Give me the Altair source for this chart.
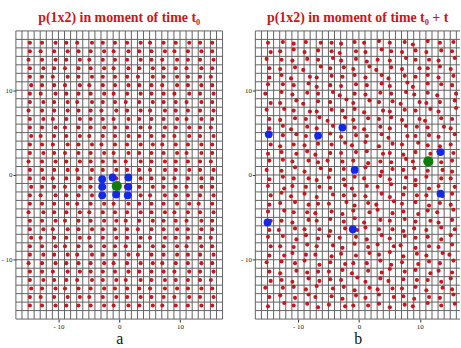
import altair as alt
import pandas as pd

# ---- data ----
COLS = [-14.7, -12.7, -10.7, -8.7, -6.7, -4.7, -2.7, -0.7, 1.3, 3.3, 5.3, 7.3, 9.3, 11.3, 13.3, 15.3]
ROWS = [15.6, 14.6, 13.6, 12.6, 11.6, 10.6, 9.6, 8.6, 7.6, 6.6, 5.6, 4.6, 3.6, 2.6, 1.6, 0.6,
        -0.4, -1.4, -2.4, -3.4, -4.4, -5.4, -6.4, -7.4, -8.4, -9.4, -10.4, -11.4, -12.4, -13.4, -14.4, -15.4]
GRID = list(range(-17, 18))
GRID_R = list(range(-17, 17))

L_DX = [
    "4454354445344544", "4345445354453454", "3454534445435445", "4543445354544354",
    "4435454443545443", "5443534454435454", "4354445345443545", "4545354434544354",
    "3445443545354445", "4534544354445354", "4453445445354543", "5344534454443545",
    "4435453445534454", "4543445354445354", "3454544435454443", "4445354544354545",
    "4534443545443454", "5443545434544354", "4354454445354445", "4445345354445534",
    "3544534445453445", "4453445534544354", "4535454443445454", "5344534545354443",
    "4453445434545354", "4545354453445445", "3454445345534454", "4435544454443545",
    "4544354535454443", "5453445444355454", "4345534545443545", "4454445354534454",
]
R_DX = [
    "3544653424352445", "5343452536434354", "2435463543364536", "4352645362437443",
    "4427354436254435", "3546343546372454", "1435462435463427", "5362447364527346",
    "2647354427354637", "4354526354437254", "4525364425365473", "3564343546274536",
    "5343456234536443", "3465243547344635", "4536424355462354", "2453645336543464",
    "4546335425364353", "3634546243454536", "5423365436345364", "4356437452634543",
    "3645254363546425", "5436345425354634", "4253546634543356", "3564432546354453",
    "5345364453624534", "4634253564345362", "2453546345436545", "4365434256354634",
    "5436543635245453", "1544365463534364", "4356254534643545", "3645436354352456",
]
R_DY = [
    "4535443546452645", "3463542436435354", "5435463524364436", "4352645362534463",
    "3624354636254635", "5546243546372654", "4635462435463524", "3362547364524346",
    "5643354624354637", "4354626354634254", "3625364425365453", "5564273546244536",
    "4243546372546324", "3536244563425364", "5645354524374635", "4372645372546342",
    "3644253647352644", "5254436254736254", "4736254436254436", "3563446253746253",
    "5644352647352647", "4425463725463425", "3354425364425364", "5627364527364527",
    "4436452736452436", "3364425364725364", "5647253447253647", "4253446253746253",
    "3426354726354426", "5563746253446253", "4637452637452437", "3746253446253746",
]

BLUE_L_X = [-2.8, -1.1, 1.5, -2.8, 1.5, -2.8, -0.5, 1.4]
BLUE_L_Y = [-0.5, -0.3, -0.3, -1.4, -1.4, -2.4, -2.3, -2.4]
GREEN_L = [-0.4, -1.3]

BLUE_R_X = [-14.8, -6.7, -2.7, -0.7, 13.4, 13.4, -15.0, -1.0]
BLUE_R_Y = [4.8, 4.65, 5.6, 0.6, 2.7, -2.2, -5.6, -6.4]
GREEN_R = [11.4, 1.6]


def lattice(dx_rows, dy_rows=None):
    recs = []
    for i, y in enumerate(ROWS):
        for j, x in enumerate(COLS):
            dx = (int(dx_rows[i][j]) - 4) * 0.22
            dy = (int(dy_rows[i][j]) - 4) * 0.1 if dy_rows else 0.0
            recs.append({"x": x + dx, "y": y + dy})
    return pd.DataFrame(recs)


SERIF = "Liberation Serif"
RED = "#c8161d"


def panel(title, dots, bx, by, green, xdom, width, gridx, letter):
    xs = alt.Scale(domain=xdom, nice=False, zero=False)
    ys = alt.Scale(domain=[-17, 17], nice=False, zero=False)
    axis_common = dict(
        values=[-10, 0, 10], grid=False, domain=False, tickSize=3, tickColor="#333",
        labelFont=SERIF, labelFontSize=7, labelColor="#222", labelPadding=1,
        labelExpr="datum.value < 0 ? '- ' + abs(datum.value) : datum.label",
    )
    xaxis = alt.Axis(title=letter, titleFont=SERIF, titleFontSize=16, titleFontWeight="normal",
                     titleColor="#111", titlePadding=1, **axis_common)
    yaxis = alt.Axis(title=None, **axis_common)
    X = lambda f: alt.X(f, scale=xs, axis=xaxis)
    Y = lambda f: alt.Y(f, scale=ys, axis=yaxis)
    vgrid = alt.Chart(pd.DataFrame({"g": gridx})).mark_rule(
        color="#636363", strokeWidth=1).encode(x=X("g:Q"))
    hgrid = alt.Chart(pd.DataFrame({"g": GRID})).mark_rule(
        color="#636363", strokeWidth=1).encode(y=Y("g:Q"))
    red = alt.Chart(dots).mark_circle(size=17, color=RED, opacity=1, clip=True).encode(
        x=X("x:Q"), y=Y("y:Q"))
    blue = alt.Chart(pd.DataFrame({"x": bx, "y": by})).mark_circle(
        size=62, color="#1428e6", opacity=1).encode(x=X("x:Q"), y=Y("y:Q"))
    grn = alt.Chart(pd.DataFrame({"x": [green[0]], "y": [green[1]]})).mark_circle(
        size=105, color="#0a7d0a", opacity=1).encode(x=X("x:Q"), y=Y("y:Q"))
    return alt.layer(vgrid, hgrid, red, blue, grn).properties(
        width=width, height=290,
        title=alt.TitleParams(title, font=SERIF, fontSize=14, fontWeight="bold",
                              color=RED, offset=5, anchor="middle"),
    )


left = panel("p(1x2) in moment of time t\u2080", lattice(L_DX), BLUE_L_X, BLUE_L_Y, GREEN_L,
             [-17, 17], 208, GRID, "a")
right = panel("p(1x2) in moment of time t\u2080 + t", lattice(R_DX, R_DY), BLUE_R_X, BLUE_R_Y,
              GREEN_R, [-17, 16.6], 206, GRID_R, "b")

chart = alt.hconcat(left, right, spacing=16).properties(
    padding={"left": 0, "top": 10, "right": 0, "bottom": 0},
    background="white",
).configure_view(stroke=None)

chart.save("out.html", embed_options={"renderer": "svg", "actions": False})
